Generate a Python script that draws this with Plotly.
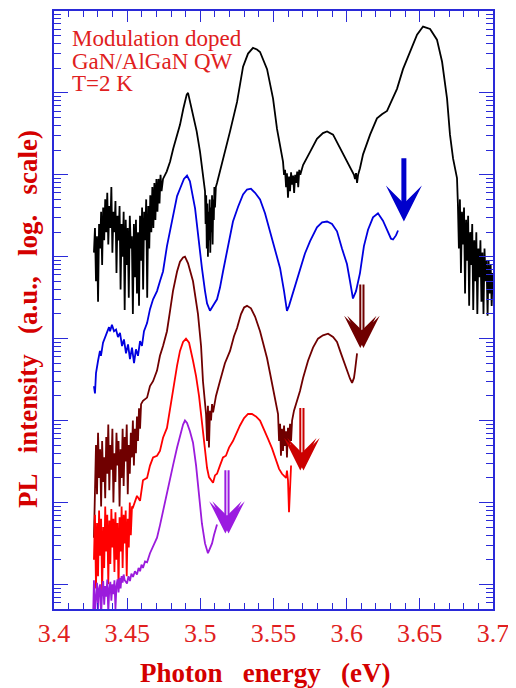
import numpy as np
import plotly.graph_objects as go

# ---------------- data (photon energy in eV, log10 of PL intensity) ----------------
black_energy = [
    3.4273, 3.4280, 3.4287, 3.4294, 3.4301, 3.4308, 3.4315, 3.4322, 3.4329, 3.4336,
    3.4343, 3.4350, 3.4357, 3.4364, 3.4371, 3.4378, 3.4385, 3.4392, 3.4399, 3.4406,
    3.4413, 3.4420, 3.4427, 3.4434, 3.4441, 3.4448, 3.4455, 3.4462, 3.4469, 3.4476,
    3.4483, 3.4490, 3.4497, 3.4504, 3.4511, 3.4518, 3.4525, 3.4532, 3.4539, 3.4546,
    3.4553, 3.4560, 3.4567, 3.4574, 3.4581, 3.4588, 3.4595, 3.4602, 3.4609, 3.4616,
    3.4623, 3.4630, 3.4637, 3.4644, 3.4651, 3.4658, 3.4665, 3.4672, 3.4679, 3.4686,
    3.4693, 3.4700, 3.4707, 3.4714, 3.4721, 3.4728, 3.4735, 3.4745,
    3.4770, 3.4793, 3.4815, 3.4838, 3.4861, 3.4884, 3.4907, 3.4916,
    3.4952, 3.4975, 3.4998, 3.5020, 3.5032,
    3.5036, 3.5040, 3.5044, 3.5048, 3.5052, 3.5056, 3.5060, 3.5064, 3.5068, 3.5072,
    3.5076, 3.5080, 3.5084, 3.5088, 3.5092, 3.5096, 3.5100, 3.5106,
    3.5114, 3.5155, 3.5203, 3.5251, 3.5292, 3.5326, 3.5360, 3.5387, 3.5408, 3.5456,
    3.5497, 3.5524, 3.5545, 3.5565,
    3.5572, 3.5579, 3.5586, 3.5592, 3.5599, 3.5606, 3.5613, 3.5620, 3.5627, 3.5634,
    3.5641, 3.5648, 3.5655, 3.5662, 3.5669, 3.5676, 3.5683,
    3.5702, 3.5750, 3.5797, 3.5838, 3.5866, 3.5907, 3.5955, 3.6002, 3.6030, 3.6050,
    3.6057, 3.6064, 3.6071, 3.6078, 3.6091, 3.6112, 3.6160, 3.6207, 3.6241, 3.6276,
    3.6296, 3.6344, 3.6385, 3.6433, 3.6481, 3.6522, 3.6570, 3.6617, 3.6652, 3.6686,
    3.6706, 3.6727, 3.6754,
    3.6760, 3.6767, 3.6774, 3.6781, 3.6788, 3.6795, 3.6802, 3.6809, 3.6816, 3.6823,
    3.6830, 3.6837, 3.6844, 3.6851, 3.6858, 3.6865, 3.6872, 3.6879, 3.6886, 3.6893,
    3.6900, 3.6907, 3.6914, 3.6921, 3.6928, 3.6935, 3.6942, 3.6949, 3.6956, 3.6963,
    3.6970, 3.6977, 3.6984, 3.6991, 3.6998,
]
black_logI = [
    4.05, 4.35, 3.70, 4.25, 3.45, 4.40, 4.10, 4.55, 3.90, 4.60,
    4.20, 4.70, 4.30, 4.78, 4.15, 4.62, 4.35, 4.85, 4.05, 4.55,
    4.30, 4.68, 3.80, 4.50, 4.20, 4.62, 3.60, 4.40, 4.00, 4.55,
    3.35, 4.45, 3.90, 4.35, 3.50, 4.50, 4.10, 4.25, 3.30, 4.40,
    3.75, 4.45, 3.55, 4.30, 3.40, 4.50, 3.95, 4.60, 3.60, 4.55,
    4.20, 4.70, 3.50, 4.62, 4.10, 4.75, 4.30, 4.85, 4.35, 4.90,
    4.45, 4.95, 4.55, 4.95, 4.65, 5.00, 4.80, 4.95,
    5.04, 5.16, 5.32, 5.47, 5.61, 5.81, 5.98, 6.00,
    5.73, 5.53, 5.28, 4.96, 4.80,
    4.40, 4.75, 4.10, 4.65, 4.00, 4.55, 4.20, 4.70, 4.05, 4.60,
    4.30, 4.75, 4.15, 4.70, 4.45, 4.85, 4.60, 4.85,
    4.90, 5.18, 5.53, 5.89, 6.32, 6.48, 6.55, 6.53, 6.50, 6.29,
    5.93, 5.56, 5.37, 5.16,
    5.00, 5.06, 4.85, 5.02, 4.72, 4.98, 4.80, 5.03, 4.88, 4.99,
    4.78, 5.00, 4.90, 5.04, 4.85, 5.06, 5.00,
    5.12, 5.28, 5.44, 5.51, 5.53, 5.49, 5.32, 5.16, 5.07, 5.00,
    4.95, 5.02, 4.90, 5.00, 5.08, 5.25, 5.49, 5.69, 5.74, 5.78,
    5.86, 6.05, 6.29, 6.50, 6.71, 6.81, 6.78, 6.65, 6.38, 5.93,
    5.49, 5.20, 4.96,
    4.65, 4.10, 4.70, 3.80, 4.55, 4.15, 4.60, 3.55, 4.45, 3.95,
    4.50, 3.40, 4.30, 3.90, 4.40, 3.35, 4.20, 3.70, 4.30, 3.30,
    4.10, 3.75, 4.20, 3.45, 4.05, 3.30, 4.10, 3.70, 3.95, 3.28,
    3.95, 3.55, 3.90, 3.40, 3.80,
]

blue_energy = [
    3.4273, 3.4280, 3.4287, 3.4294, 3.4301, 3.4314, 3.4321, 3.4335, 3.4349, 3.4362,
    3.4376, 3.4383, 3.4396, 3.4410, 3.4424, 3.4437, 3.4451, 3.4465, 3.4478, 3.4492,
    3.4506, 3.4519, 3.4533, 3.4547, 3.4560, 3.4574, 3.4588, 3.4601, 3.4615, 3.4636,
    3.4656, 3.4677, 3.4704, 3.4724, 3.4745, 3.4772, 3.4793, 3.4813, 3.4841, 3.4861,
    3.4888, 3.4909, 3.4929, 3.4964, 3.4984, 3.5011, 3.5032, 3.5046, 3.5066, 3.5080,
    3.5093, 3.5114, 3.5134, 3.5155, 3.5189, 3.5223, 3.5258, 3.5292, 3.5319, 3.5346,
    3.5374, 3.5408, 3.5442, 3.5476, 3.5510, 3.5545, 3.5572, 3.5592, 3.5606, 3.5626,
    3.5654, 3.5681, 3.5715, 3.5750, 3.5797, 3.5832, 3.5866, 3.5900, 3.5934, 3.5968,
    3.6002, 3.6023, 3.6043, 3.6064, 3.6091, 3.6118, 3.6146, 3.6180, 3.6214, 3.6248,
    3.6283, 3.6303, 3.6317, 3.6337, 3.6351,
]
blue_logI = [
    2.42, 2.33, 2.58, 2.67, 2.73, 2.85, 2.79, 2.95, 3.02, 3.09,
    3.14, 3.09, 3.17, 3.09, 3.11, 3.02, 3.07, 2.91, 2.99, 2.82,
    2.93, 2.75, 2.89, 2.70, 2.87, 2.79, 2.97, 2.91, 3.09, 3.19,
    3.36, 3.48, 3.58, 3.70, 3.82, 4.13, 4.31, 4.52, 4.74, 4.83,
    4.95, 4.99, 4.92, 4.59, 4.25, 3.86, 3.58, 3.43, 3.34, 3.39,
    3.42, 3.48, 3.62, 3.82, 4.13, 4.43, 4.61, 4.76, 4.82, 4.83,
    4.78, 4.70, 4.53, 4.31, 4.07, 3.86, 3.58, 3.34, 3.40, 3.52,
    3.70, 3.85, 4.04, 4.19, 4.36, 4.42, 4.43, 4.40, 4.31, 4.10,
    3.91, 3.70, 3.49, 3.58, 3.80, 4.13, 4.33, 4.48, 4.53, 4.44,
    4.29, 4.22, 4.21, 4.26, 4.32,
]

maroon_energy = [
    3.4273, 3.4280, 3.4287, 3.4294, 3.4301, 3.4308, 3.4315, 3.4322, 3.4329, 3.4336,
    3.4343, 3.4350, 3.4357, 3.4364, 3.4371, 3.4378, 3.4385, 3.4392, 3.4399, 3.4406,
    3.4413, 3.4420, 3.4427, 3.4434, 3.4441, 3.4448, 3.4455, 3.4462, 3.4469, 3.4476,
    3.4483, 3.4490, 3.4497, 3.4504, 3.4511, 3.4518, 3.4525, 3.4532, 3.4539, 3.4546,
    3.4553, 3.4560, 3.4567, 3.4574, 3.4581, 3.4588, 3.4595,
    3.4608, 3.4636, 3.4656, 3.4677, 3.4704, 3.4724, 3.4745, 3.4772, 3.4793, 3.4813,
    3.4841, 3.4861, 3.4882, 3.4895, 3.4916, 3.4950, 3.4984, 3.5005, 3.5018, 3.5032,
    3.5039, 3.5046, 3.5052, 3.5059, 3.5066, 3.5073, 3.5080, 3.5087,
    3.5107, 3.5134, 3.5168, 3.5203, 3.5230, 3.5251, 3.5278, 3.5299, 3.5319, 3.5346,
    3.5374, 3.5408, 3.5435, 3.5456, 3.5476, 3.5497, 3.5517, 3.5531,
    3.5538, 3.5545, 3.5551, 3.5558, 3.5565, 3.5572, 3.5579, 3.5586, 3.5592, 3.5599,
    3.5606, 3.5613, 3.5620, 3.5627, 3.5640,
    3.5661, 3.5681, 3.5702, 3.5736, 3.5770, 3.5804, 3.5838, 3.5873, 3.5907, 3.5934,
    3.5961, 3.5989, 3.6009, 3.6023, 3.6037, 3.6050, 3.6057, 3.6064, 3.6071,
]
maroon_logI = [
    0.57, 1.20, 1.70, 1.10, 1.85, 1.30, 1.65, 0.95, 1.75, 1.25,
    1.55, 1.05, 1.80, 1.35, 1.95, 1.15, 1.70, 1.40, 1.90, 1.00,
    1.60, 1.25, 1.85, 1.45, 1.75, 0.95, 1.65, 1.30, 1.90, 1.20,
    1.80, 1.50, 1.95, 1.10, 1.70, 1.35, 1.85, 1.55, 2.00, 1.45,
    1.90, 1.60, 2.05, 1.75, 2.15, 1.90, 2.20,
    2.24, 2.28, 2.42, 2.48, 2.61, 2.79, 2.91, 3.09, 3.34, 3.58,
    3.82, 3.94, 3.99, 4.00, 3.92, 3.70, 3.30, 2.91, 2.48, 2.18,
    2.08, 1.75, 2.18, 1.67, 2.12, 2.00, 2.20, 2.10,
    2.30, 2.48, 2.70, 2.85, 3.03, 3.13, 3.30, 3.38, 3.40, 3.37,
    3.27, 3.09, 2.91, 2.76, 2.58, 2.40, 2.24, 2.08,
    1.75, 1.96, 1.57, 1.90, 1.63, 1.94, 1.69, 1.87, 1.55, 1.91,
    1.69, 1.96, 1.75, 2.00, 2.12,
    2.24, 2.36, 2.52, 2.73, 2.89, 3.00, 3.04, 3.06, 3.02, 2.96,
    2.82, 2.67, 2.58, 2.51, 2.46, 2.52, 2.61, 2.70, 2.82,
]

red_energy = [
    3.4273, 3.4280, 3.4287, 3.4294, 3.4301, 3.4308, 3.4315, 3.4322, 3.4329, 3.4336,
    3.4343, 3.4350, 3.4357, 3.4364, 3.4371, 3.4378, 3.4385, 3.4392, 3.4399, 3.4406,
    3.4413, 3.4420, 3.4427, 3.4434, 3.4441, 3.4448, 3.4455, 3.4462, 3.4469, 3.4476,
    3.4483, 3.4490, 3.4497, 3.4504, 3.4511, 3.4518, 3.4525, 3.4533,
    3.4540, 3.4567, 3.4588, 3.4608, 3.4636, 3.4656, 3.4677, 3.4704, 3.4724, 3.4745,
    3.4772, 3.4793, 3.4813, 3.4841, 3.4861, 3.4882, 3.4902, 3.4923, 3.4950, 3.4971,
    3.4991, 3.5011, 3.5032, 3.5046, 3.5059, 3.5073, 3.5087, 3.5100, 3.5114, 3.5134,
    3.5155, 3.5175, 3.5196, 3.5223, 3.5251, 3.5271, 3.5299, 3.5326, 3.5353, 3.5380,
    3.5408, 3.5435, 3.5462, 3.5490, 3.5517, 3.5538, 3.5558, 3.5572, 3.5586, 3.5592,
    3.5599, 3.5606, 3.5613, 3.5620,
]
red_logI = [
    0.30, 0.85, -0.05, 0.75, 0.10, 0.90, 0.35, 0.80, -0.12, 0.70,
    0.20, 0.95, 0.40, 0.85, 0.00, 0.78, 0.25, 0.92, 0.45, 0.80,
    0.15, 0.88, 0.30, 0.75, -0.05, 0.82, 0.40, 0.95, 0.20, 0.85,
    0.50, 0.90, 0.10, 0.80, 0.45, 1.00, 0.60, 0.95,
    0.94, 1.08, 1.02, 1.27, 1.30, 1.45, 1.55, 1.57, 1.63, 1.79,
    1.91, 2.15, 2.40, 2.67, 2.85, 2.96, 3.00, 2.95, 2.73, 2.54,
    2.30, 2.00, 1.63, 1.42, 1.31, 1.27, 1.24, 1.33, 1.35, 1.45,
    1.55, 1.57, 1.67, 1.75, 1.87, 1.94, 2.03, 2.08, 2.08, 2.05,
    2.00, 1.90, 1.78, 1.66, 1.51, 1.41, 1.35, 1.33, 1.30, 1.39,
    1.27, 0.88, 1.29, 1.45,
]

purple_energy = [
    3.4267, 3.4273, 3.4280, 3.4287, 3.4294, 3.4301, 3.4308, 3.4315, 3.4322, 3.4329,
    3.4336, 3.4343, 3.4350, 3.4357, 3.4364, 3.4371, 3.4378, 3.4385, 3.4392, 3.4399,
    3.4406, 3.4413, 3.4420, 3.4427, 3.4434, 3.4441, 3.4448, 3.4455, 3.4462, 3.4469,
    3.4476, 3.4483, 3.4499, 3.4509, 3.4519, 3.4529, 3.4540, 3.4553, 3.4567, 3.4578,
    3.4588, 3.4598, 3.4608, 3.4622, 3.4636, 3.4656, 3.4677, 3.4704, 3.4724, 3.4745,
    3.4772, 3.4793, 3.4813, 3.4841, 3.4861, 3.4882, 3.4895, 3.4909, 3.4929, 3.4950,
    3.4971, 3.4991, 3.5011, 3.5032, 3.5046, 3.5052, 3.5066, 3.5080, 3.5093, 3.5107,
    3.5114,
]
purple_logI = [
    -0.40, 0.05, -0.35, -0.10, 0.02, -0.30, -0.05, 0.00, -0.38, -0.08,
    0.04, -0.25, -0.02, -0.15, 0.06, -0.35, -0.05, 0.03, -0.20, 0.00,
    -0.12, 0.05, -0.30, -0.02, 0.06, -0.10, 0.08, -0.05, 0.10, 0.02,
    0.12, 0.05, 0.01, 0.10, 0.04, 0.13, 0.09, 0.16, 0.12, 0.20,
    0.16, 0.24, 0.20, 0.28, 0.27, 0.38, 0.47, 0.57, 0.72, 0.90,
    1.11, 1.27, 1.45, 1.67, 1.81, 1.95, 2.00, 1.97, 1.87, 1.73,
    1.45, 1.06, 0.74, 0.50, 0.41, 0.38, 0.44, 0.50, 0.60, 0.69,
    0.73,
]

# arrows: energy position, tip and tail (log10 intensity)
arrow_energy = [3.6391, 3.6104, 3.5694, 3.5182]
arrow_tip_logI = [4.43, 2.885, 1.39, 0.62]
arrow_tail_logI = [5.22, 3.68, 2.17, 1.41]
arrow_double = [False, True, True, True]

x_tick_vals = [3.4, 3.45, 3.5, 3.55, 3.6, 3.65, 3.7]
x_tick_text = ["3.4", "3.45", "3.5", "3.55", "3.6", "3.65", "3.7"]

label_lines = ["Modulation doped", "GaN/AlGaN QW", "T=2 K"]

# ---------------- styling ----------------
AXIS = "#2a2ad8"
RED_TXT = "#e02020"
TITLE_RED = "#d40000"
SERIF = "Liberation Serif, Times New Roman, serif"

curve_specs = [
    (black_energy, black_logI, "black"),
    (blue_energy, blue_logI, "#0000e0"),
    (maroon_energy, maroon_logI, "#700000"),
    (red_energy, red_logI, "#ff0000"),
    (purple_energy, purple_logI, "#9b1bdc"),
]
arrow_colors = ["#0000cc", "#700000", "#cc0000", "#9b1be0"]

fig = go.Figure()
for xs, ls, col in curve_specs:
    fig.add_trace(go.Scatter(
        x=xs, y=np.power(10.0, np.array(ls)), mode="lines",
        line=dict(color=col, width=1.8), hoverinfo="skip", showlegend=False,
    ))

annotations = []
px_per_ev = 439 / 0.3
for xe, tip, tail, dbl, col in zip(arrow_energy, arrow_tip_logI, arrow_tail_logI,
                                   arrow_double, arrow_colors):
    if dbl:
        off = 1.6 / px_per_ev
        for s in (-1, 1):
            annotations.append(dict(
                x=xe + s * off, y=tip, ax=xe + s * off, ay=tail,
                xref="x", yref="y", axref="x", ayref="y", text="",
                showarrow=True, arrowhead=3, arrowsize=2.7, arrowwidth=2,
                arrowcolor=col, standoff=0,
            ))
    else:
        annotations.append(dict(
            x=xe, y=tip, ax=xe, ay=tail,
            xref="x", yref="y", axref="x", ayref="y", text="",
            showarrow=True, arrowhead=3, arrowsize=1.2, arrowwidth=5,
            arrowcolor=col, standoff=0,
        ))

label_y = [0.9533, 0.915, 0.8783]
for txt, yy in zip(label_lines, label_y):
    annotations.append(dict(
        x=0.0364, y=yy, xref="paper", yref="paper", text=txt, showarrow=False,
        xanchor="left", yanchor="middle",
        font=dict(family=SERIF, size=23, color=RED_TXT),
    ))

NB = "\u00a0"
annotations.append(dict(
    x=0.4806, y=-0.1067, xref="paper", yref="paper",
    text="<b>Photon" + NB * 3 + "energy" + NB * 3 + "(eV)</b>",
    showarrow=False, xanchor="center", yanchor="middle",
    font=dict(family=SERIF, size=27, color=TITLE_RED),
))
annotations.append(dict(
    x=-0.0592, y=0.485, xref="paper", yref="paper",
    text="<b>PL" + NB * 3 + "intensity" + NB * 3 + "(a.u.," + NB * 3 + "log." + NB * 3 + "scale)</b>",
    showarrow=False, xanchor="center", yanchor="middle", textangle=-90,
    font=dict(family=SERIF, size=27, color=TITLE_RED),
))

# the page body adds an 8px offset; size the figure so the plot area lands where the reference has it
fig.update_layout(
    width=508, height=680,
    margin=dict(l=46, r=23, t=1, b=79),
    paper_bgcolor="white", plot_bgcolor="white",
    showlegend=False,
    annotations=annotations,
    xaxis=dict(
        range=[3.4, 3.7], showgrid=False, zeroline=False,
        showline=True, linecolor=AXIS, linewidth=1.5, mirror="ticks",
        ticks="inside", ticklen=11, tickwidth=1.3, tickcolor=AXIS,
        tickmode="array", tickvals=x_tick_vals, ticktext=x_tick_text,
        tickfont=dict(family=SERIF, size=26, color=RED_TXT),
        minor=dict(ticks="inside", ticklen=6, tickwidth=1, tickcolor=AXIS,
                   tick0=3.4, dtick=0.01, showgrid=False),
    ),
    yaxis=dict(
        type="log", range=[-0.301, 7.0], showgrid=False, zeroline=False,
        showline=True, linecolor=AXIS, linewidth=1.5, mirror="ticks",
        ticks="inside", ticklen=14, tickwidth=1.3, tickcolor=AXIS,
        dtick=1, showticklabels=False,
        minor=dict(ticks="inside", ticklen=7, tickwidth=1, tickcolor=AXIS,
                   dtick="D1", showgrid=False),
    ),
)

fig.write_html("out.html")
